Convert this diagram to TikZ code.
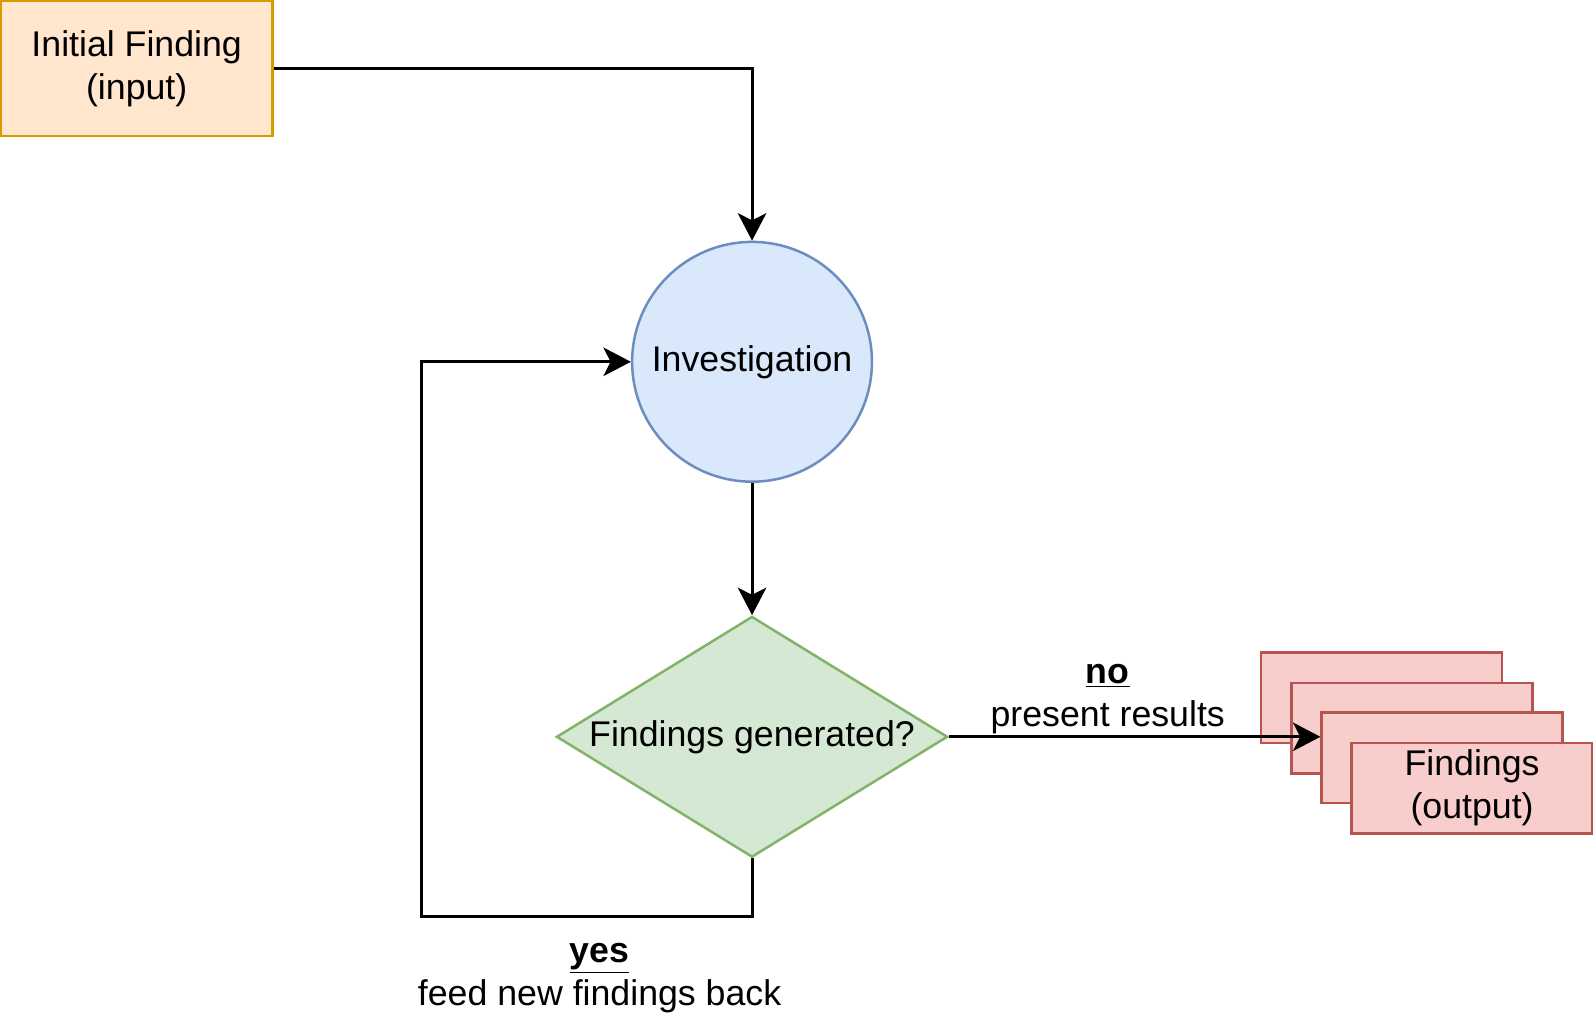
\documentclass[tikz,border=0pt]{standalone}
\usepackage{fontspec}
\setmainfont{Liberation Sans}
\usepackage{tikz}
\usetikzlibrary{arrows.meta, shapes.geometric, calc}

\definecolor{inputfill}{HTML}{FFE6CC}
\definecolor{inputdraw}{HTML}{D79B00}
\definecolor{procfill}{HTML}{DAE8FC}
\definecolor{procdraw}{HTML}{6C8EBF}
\definecolor{decfill}{HTML}{D5E8D4}
\definecolor{decdraw}{HTML}{82B366}
\definecolor{outfill}{HTML}{F8CECC}
\definecolor{outdraw}{HTML}{B85450}

\begin{document}
\begin{tikzpicture}[x=0.02cm, y=-0.02cm,
		every node/.style={font=\fontsize{20pt}{24pt}\selectfont, align=center},
		inputbox/.style={rectangle, draw=inputdraw, fill=inputfill, line width=1.4pt, minimum width=5.34cm, minimum height=2.66cm},
		procnode/.style={circle, draw=procdraw, fill=procfill, line width=1.4pt, minimum size=4.72cm, inner sep=0pt},
		decnode/.style={diamond, draw=decdraw, fill=decfill, line width=1.4pt, aspect=1.62, inner sep=0pt, minimum width=7.7cm, minimum height=4.74cm},
		outbox/.style={rectangle, draw=outdraw, fill=outfill, line width=1.4pt, minimum width=4.74cm, minimum height=1.78cm},
		arr/.style={-{Stealth[length=0.54cm, width=0.56cm, inset=0.14cm]}, line width=1.7pt},
		lbl/.style={inner sep=0pt}]
			\useasboundingbox (0, 0) rectangle (1567.5, 997.7);
			
			\node [inputbox] (init) at (134.5, 67.5) {Initial Finding\\(input)};
			\node [procnode] (inv) at (740, 356) {Investigation};
			\node [decnode] (dec) at (740, 725) {Findings generated?};
			
			\node [outbox] (out1) at (1359.5, 686.5) {};
			\node [outbox] (out2) at (1389.5, 716.5) {};
			\node [outbox] (out3) at (1419, 745.5) {};
			\node [outbox] (out4) at (1448.5, 775.5) {Findings\\(output)};
			
			\coordinate (back) at (415, 902);
			
			\draw[arr] (init.east) -| (inv.north);
			\draw[arr] (inv.south) -- (dec.north);
			\draw[arr] (dec.east) -- (dec.east -| out3.west);
			\draw[arr] (dec.south) |- (back) |- (inv.west);
			
			\node [lbl] (nolabel) at (1090, 688) {\underline{\textbf{no}}\\present results};
			\node [lbl] (yeslabel) at (590, 962) {\underline{\textbf{yes}}\\feed new findings back};
		\end{tikzpicture}
\end{document}
